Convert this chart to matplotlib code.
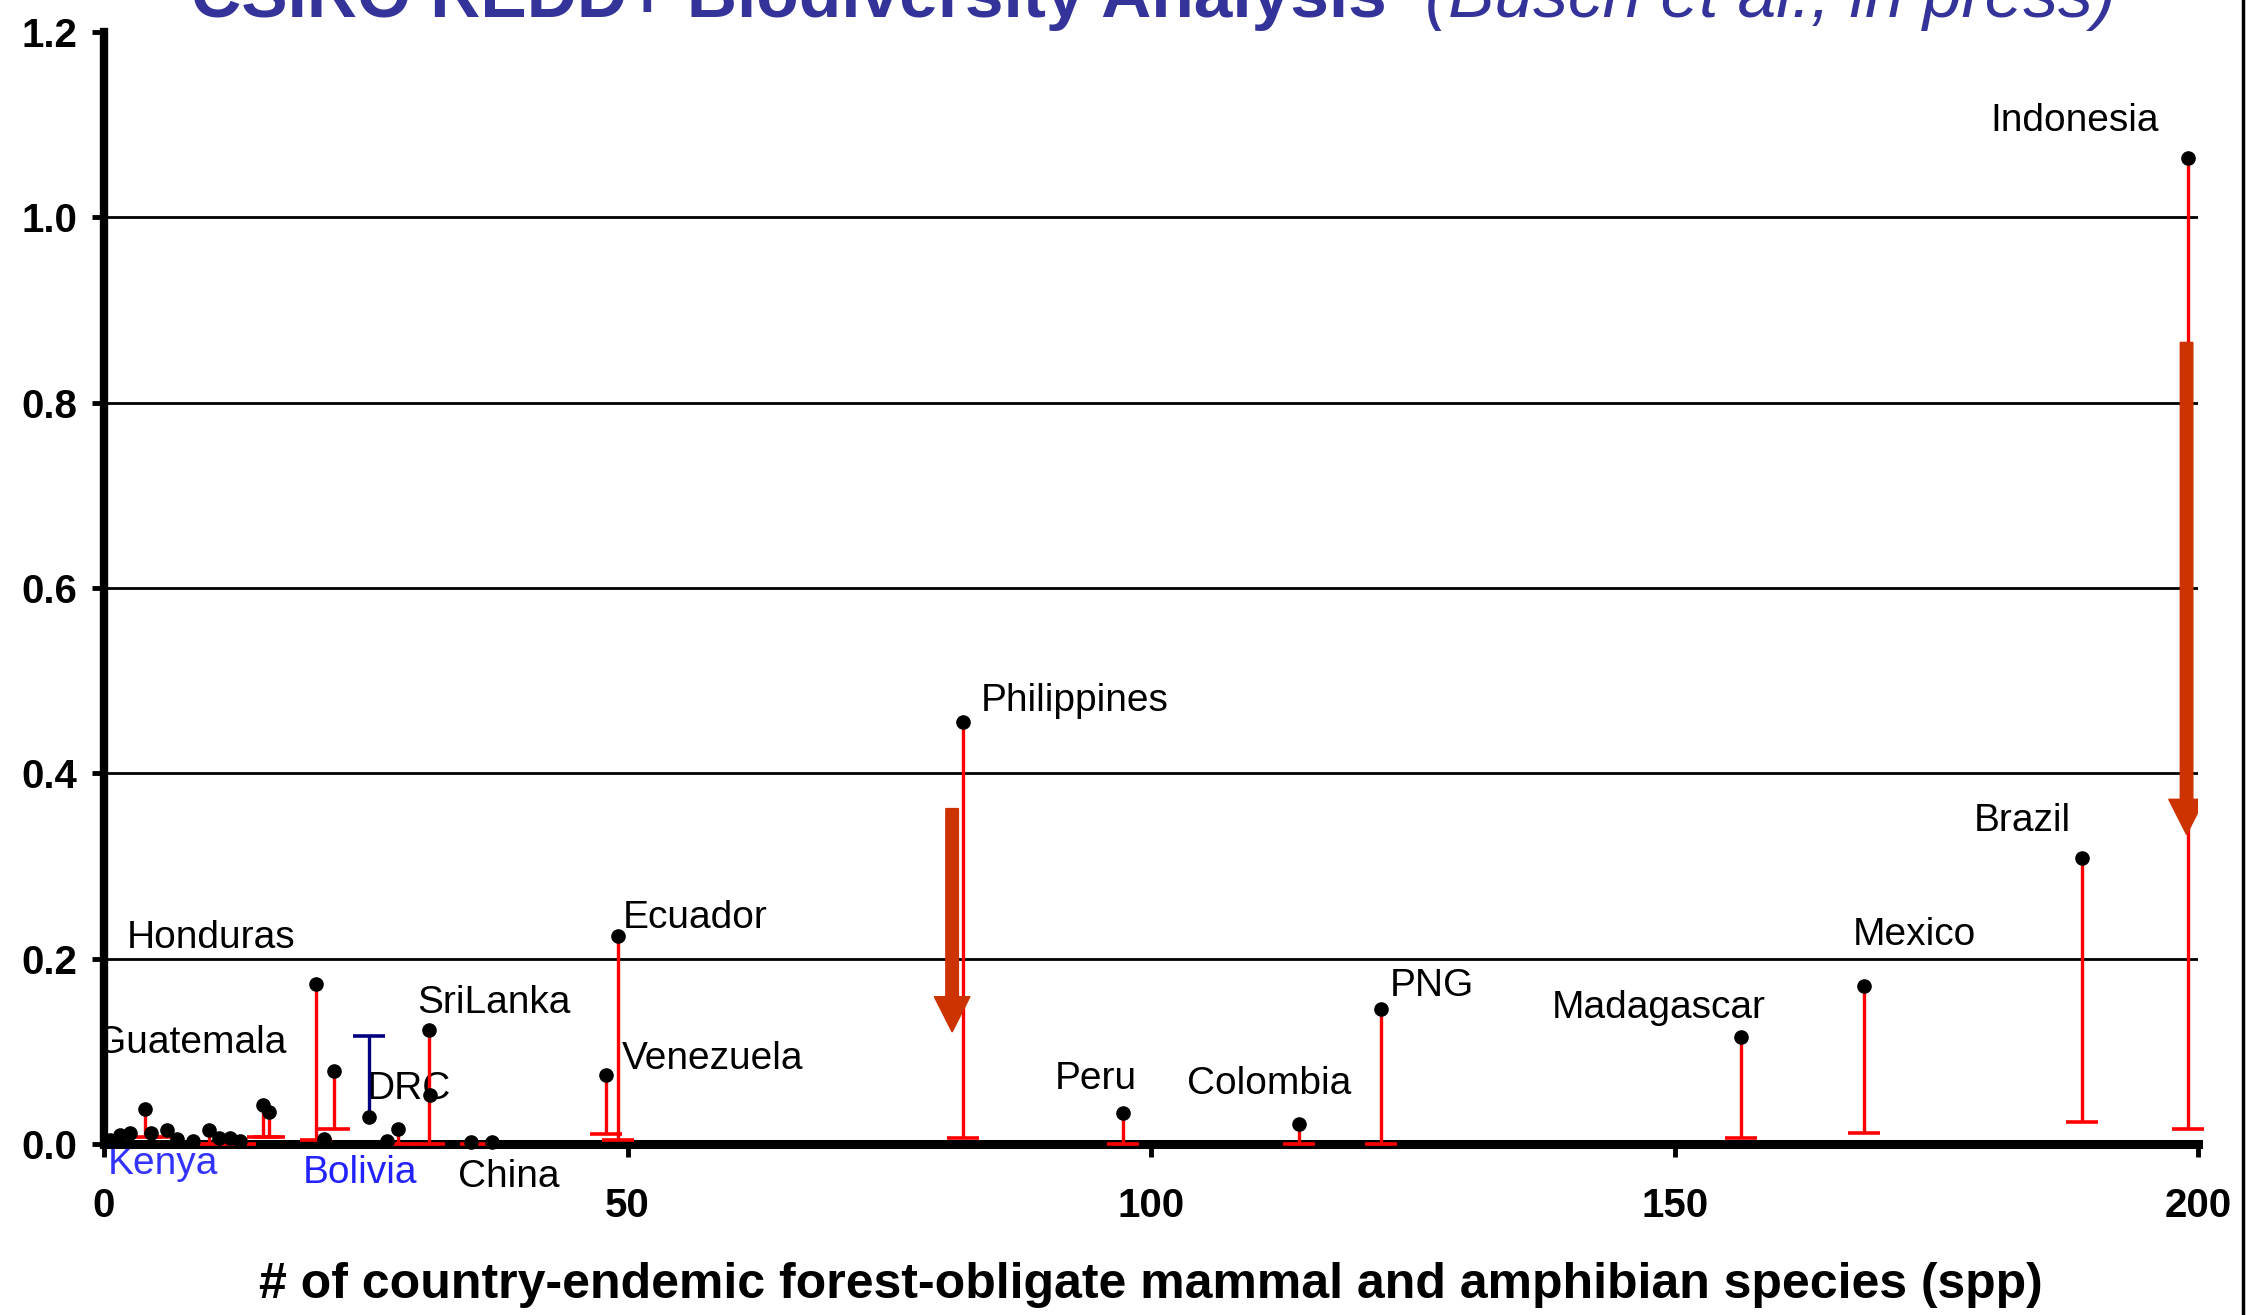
import matplotlib
matplotlib.use("Agg")
import matplotlib.pyplot as plt
from matplotlib.lines import Line2D

plt.rcParams['font.family'] = ['Liberation Sans', 'DejaVu Sans']

# all points (x = endemic spp, y = value)
pt_x = [199.0, 188.9, 168.1, 156.3, 122.0, 114.1, 97.3, 82.0, 49.1, 47.9,
        31.0, 20.2, 22.0, 28.1, 31.1, 25.3, 3.9, 15.2, 15.8,
        0.6, 1.5, 2.5, 4.5, 6.0, 7.0, 8.5, 10.0, 11.0, 12.0, 13.0, 21.0, 27.0, 35.0, 37.1]
pt_y = [1.064, 0.309, 0.171, 0.115, 0.146, 0.022, 0.034, 0.455, 0.224, 0.075,
        0.123, 0.173, 0.079, 0.016, 0.053, 0.029, 0.038, 0.042, 0.035,
        0.004, 0.010, 0.012, 0.012, 0.015, 0.005, 0.003, 0.015, 0.006, 0.007, 0.003, 0.005, 0.003, 0.002, 0.002]

# red lower error bars
err_x = [199.0, 188.9, 168.1, 156.3, 122.0, 114.1, 97.3, 82.0, 49.1, 47.9,
         31.0, 20.2, 22.0, 28.1, 3.9, 15.2, 15.8, 6.0, 10.0, 13.0, 35.5]
err_top = [1.064, 0.309, 0.171, 0.115, 0.146, 0.022, 0.034, 0.455, 0.224, 0.075,
           0.123, 0.173, 0.079, 0.016, 0.038, 0.042, 0.035, 0.015, 0.015, 0.003, 0.002]
err_low = [0.016, 0.024, 0.012, 0.006, 0.0, 0.0, 0.0, 0.006, 0.004, 0.011,
           0.0, 0.004, 0.016, 0.0, 0.008, 0.008, 0.008, 0.008, 0.0, 0.0, 0.0]

# DRC upper error bar (navy)
drc_x = [25.3]
drc_y = [0.029]
drc_hi = [0.117]

labels = ["Indonesia", "Philippines", "Brazil", "Mexico", "Madagascar", "PNG",
          "Colombia", "Peru", "Ecuador", "Venezuela", "SriLanka", "DRC",
          "Honduras", "Guatemala", "Kenya", "Bolivia", "China"]
lab_x = [180.2, 83.7, 178.6, 167.0, 138.3, 122.8, 103.4, 90.8, 49.5, 49.5,
         29.9, 25.1, 2.2, -0.8, 0.4, 19.0, 33.8]
lab_y = [1.104, 0.478, 0.349, 0.226, 0.147, 0.171, 0.065, 0.070, 0.244, 0.092,
         0.152, 0.059, 0.222, 0.109, -0.021, -0.031, -0.036]
lab_col = ["black"] * 14 + ["#3333FF", "#2222FF", "black"]

arrow_x = [81.0, 198.9]
arrow_top = [0.362, 0.865]
arrow_tip = [0.121, 0.334]

fig = plt.figure(figsize=(22.57, 13.15), dpi=100)
ax = fig.add_axes([0.0461, 0.130, 0.9278, 0.8457])

ax.set_xlim(0, 200)
ax.set_ylim(0, 1.2)

for g in [0.2, 0.4, 0.6, 0.8, 1.0]:
    ax.axhline(g, color="black", lw=2.0, zorder=1)

# error bars
ax.vlines(err_x, err_low, err_top, color="#FF0000", lw=2.4, zorder=3, clip_on=False)
ax.plot(err_x, err_low, ls="none", marker="_", ms=23, mew=2.6, color="#FF0000",
        zorder=3, clip_on=False)
ax.vlines(drc_x, drc_y, drc_hi, color="#000080", lw=2.4, zorder=3)
ax.plot(drc_x, drc_hi, ls="none", marker="_", ms=23, mew=2.6, color="#000080", zorder=3)

# arrows
for x, t, b in zip(arrow_x, arrow_top, arrow_tip):
    ax.arrow(x, t, 0, b - t, width=1.2, head_width=3.4, head_length=0.038,
             length_includes_head=True, color="#CC3300", zorder=4)

ax.plot(pt_x, pt_y, ls="none", marker="o", ms=9.5, color="black", zorder=5, clip_on=False)

for name, x, y, c in zip(labels, lab_x, lab_y, lab_col):
    ax.text(x, y, name, color=c, fontsize=28, ha="left", va="center",
            clip_on=(name == "Guatemala"), zorder=2)

for s in ["top", "right"]:
    ax.spines[s].set_visible(False)
ax.spines["left"].set_linewidth(6)
ax.spines["bottom"].set_linewidth(6.5)

ax.set_yticks([0, 0.2, 0.4, 0.6, 0.8, 1.0, 1.2])
ax.set_yticklabels(["0.0", "0.2", "0.4", "0.6", "0.8", "1.0", "1.2"],
                   fontsize=29, fontweight="bold")
ax.set_xticks([0, 50, 100, 150, 200])
ax.set_xticklabels(["0", "50", "100", "150", "200"], fontsize=29, fontweight="bold")
ax.tick_params(axis="y", direction="out", length=9, width=3.5, pad=10)
ax.tick_params(axis="x", direction="out", length=9, width=3.5, pad=22)

fig.text(0.510, 0.0228, "# of country-endemic forest-obligate mammal and amphibian species (spp)",
         fontsize=36, fontweight="bold", ha="center", va="center")

fig.text(0.0846, 0.987, "CSIRO REDD+ Biodiversity Analysis", fontsize=50,
         fontweight="bold", color="#333399", ha="left", va="baseline")
fig.text(0.6314, 0.987, "(Busch et al., in press)", fontsize=50,
         fontstyle="italic", color="#333399", ha="left", va="baseline")

fig.add_artist(Line2D([0.9937, 0.9937], [0, 1], color="black", lw=2.5,
                      transform=fig.transFigure))

fig.savefig("out.png", dpi=100)
